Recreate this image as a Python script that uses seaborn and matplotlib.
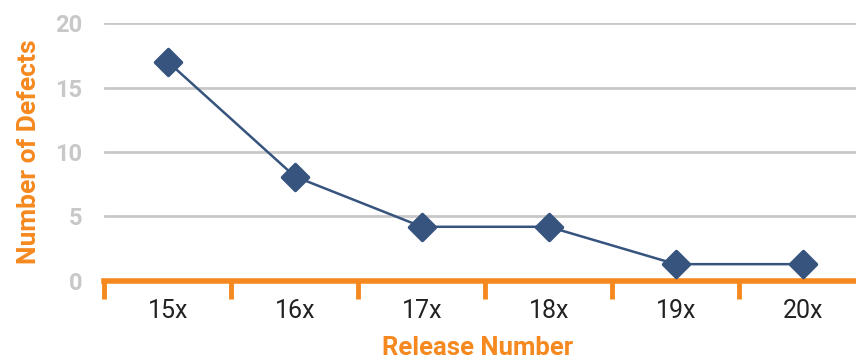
import matplotlib
matplotlib.use("Agg")
import matplotlib.pyplot as plt
from matplotlib.markers import MarkerStyle
import seaborn as sns
import pandas as pd
from matplotlib.ticker import FixedLocator

releases = ["15x", "16x", "17x", "18x", "19x", "20x"]
defects = [17, 8.1, 4.2, 4.2, 1.3, 1.3]
y_ticks = [0, 5, 10, 15, 20]

sns.set_style("white")
plt.rcParams['font.family'] = ['Roboto', 'DejaVu Sans']

ORANGE = "#f5891f"
NAVY = "#36547e"
GRID = "#c8c8c8"

fig = plt.figure(figsize=(8.56, 3.62), dpi=100)
ax = fig.add_axes([0.122, 0.224, 0.890, 0.712])

df = pd.DataFrame({"Release": releases, "Defects": defects})
sns.lineplot(data=df, x="Release", y="Defects", ax=ax, sort=False,
             color=NAVY, linewidth=1.8, marker=MarkerStyle("D", joinstyle="round"),
             markersize=13.5, markeredgecolor=NAVY, markeredgewidth=2.5,
             clip_on=False, zorder=5)

ax.set_xlim(-0.5, len(releases) - 0.5)
ax.set_ylim(0, 20)
ax.set_yticks(y_ticks)
ax.set_yticklabels([str(v) for v in y_ticks], color=GRID, fontsize=17, fontweight="bold")
ax.tick_params(axis="y", length=0, pad=16)
ax.yaxis.grid(True, color=GRID, linewidth=2)
ax.xaxis.grid(False)

ax.set_xticks(range(len(releases)))
ax.set_xticklabels(releases, color="#222222", fontsize=18)
ax.xaxis.set_minor_locator(FixedLocator([i - 0.5 for i in range(len(releases) + 1)]))
ax.tick_params(axis="x", which="major", length=0, pad=13)
ax.tick_params(axis="x", which="minor", length=13, width=3.5, color=ORANGE, direction="out", bottom=True)

for s in ["top", "right", "left"]:
    ax.spines[s].set_visible(False)
ax.spines["bottom"].set_color(ORANGE)
ax.spines["bottom"].set_linewidth(4)
ax.spines["bottom"].set_zorder(4)

ax.set_xlabel("Release Number", color=ORANGE, fontsize=18.5, fontweight="bold")
ax.xaxis.label.set_va("baseline")
ax.xaxis.set_label_coords(0.490, -0.288)
ax.set_ylabel("Number of Defects", color=ORANGE, fontsize=19, fontweight="bold", labelpad=10)

fig.savefig("out.png", dpi=100)
